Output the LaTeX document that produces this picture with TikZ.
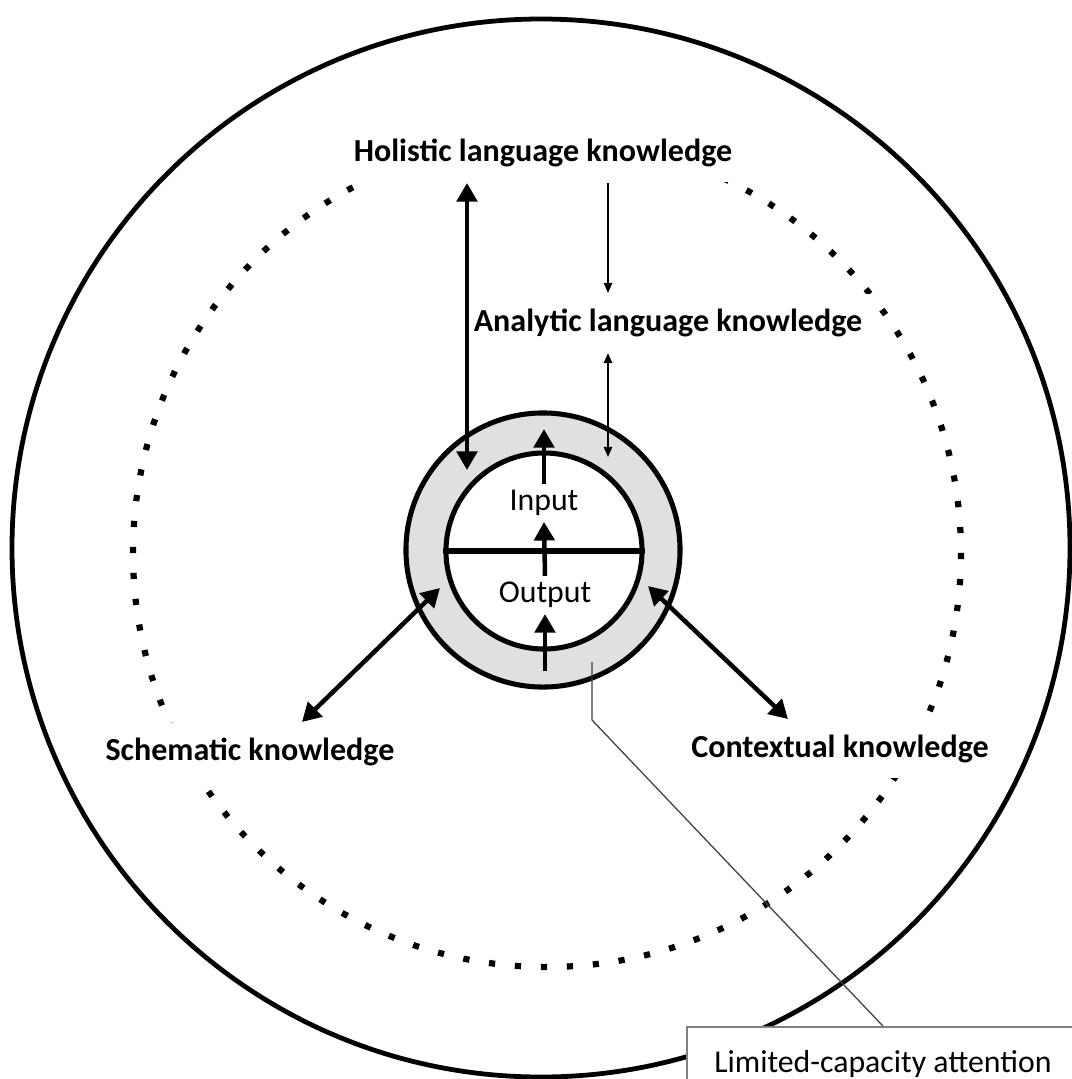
\documentclass[tikz,border=0pt]{standalone}
\usepackage{fontspec}
\setmainfont{Carlito}
\usetikzlibrary{arrows.meta}
\definecolor{ringgray}{HTML}{E0E0E0}
\tikzstyle{know} = [fill=white, font=\fontsize{11.4pt}{13.5pt}\selectfont\bfseries, inner xsep=3pt, inner ysep=5.5pt]
\tikzstyle{inner} = [font=\fontsize{11.3pt}{13.5pt}\selectfont, inner sep=2pt]
\tikzstyle{heavy} = [line width=1.6pt]
\tikzstyle{slim} = [line width=0.55pt, {Triangle[length=3.6pt,width=3pt]}-{Triangle[length=3.6pt,width=3pt]}]
\tikzstyle{slimto} = [line width=0.55pt, -{Triangle[length=3.6pt,width=3pt]}]

\begin{document}
\begin{tikzpicture}[x=0.0125cm, y=-0.0125cm, >={Triangle[length=6.6pt,width=7.2pt]}]
    \useasboundingbox (0,0) rectangle (1072,1079);
    \draw [line width=1.7pt] (541,548) circle [radius=529];
    \draw [line width=2.2pt, dash pattern=on 2.2pt off 7.05pt] (547,553) circle [radius=414];

    \node [know] (holistic) at (543,153) {Holistic language knowledge};
    \node [know] (analytic) at (668,323) {Analytic language knowledge};
    \node [know] (schematic) at (250,752) {Schematic knowledge};
    \node [know] (contextual) at (840,749) {Contextual knowledge};

    % Attention ring and centre
    \node [circle, draw, line width=1.8pt, fill=ringgray, minimum size=3.425cm] (ring) at (543,550) {};
    \node [circle, draw, line width=1.8pt, fill=white, minimum size=2.45cm] (core) at (544,551) {};
    \draw [line width=1.8pt] (core.west) -- (core.east);
    \node [inner] (input) at (544,503) {Input};
    \node [inner] (output) at (545,595) {Output};

    \coordinate (hol) at (467,470);
    \coordinate (ana) at (608,457);
    \coordinate (sch) at (440,588);
    \coordinate (con) at (648,586);
    \draw [heavy, <->] (holistic.south -| hol) -- (hol);
    \draw [slimto] (holistic.south -| ana) -- (analytic.north -| ana);
    \draw [slim] (analytic.south -| ana) -- (ana);
    \draw [heavy, <->] (schematic.north -| 302,0) -- (sch);
    \draw [heavy, <->] (contextual.north -| 788,0) -- (con);
    \draw [heavy, ->] (input.north) -- ++(0,-55);
    \draw [heavy, ->] (output.north) -- (input.south);
    \draw [heavy, <-] (output.south) -- ++(0,57);

    % Callout
    \node [draw=gray, line width=0.6pt, fill=white, anchor=north west, minimum width=4.9cm, minimum height=0.925cm, font=\fontsize{11.3pt}{13.5pt}\selectfont] (attention) at (686,1026) {Limited-capacity attention};
    \coordinate (lead) at (592,662);
    \draw [black!75, line width=0.45pt] (lead) -- ++(0,58) -- (attention.north);
\end{tikzpicture}
\end{document}
